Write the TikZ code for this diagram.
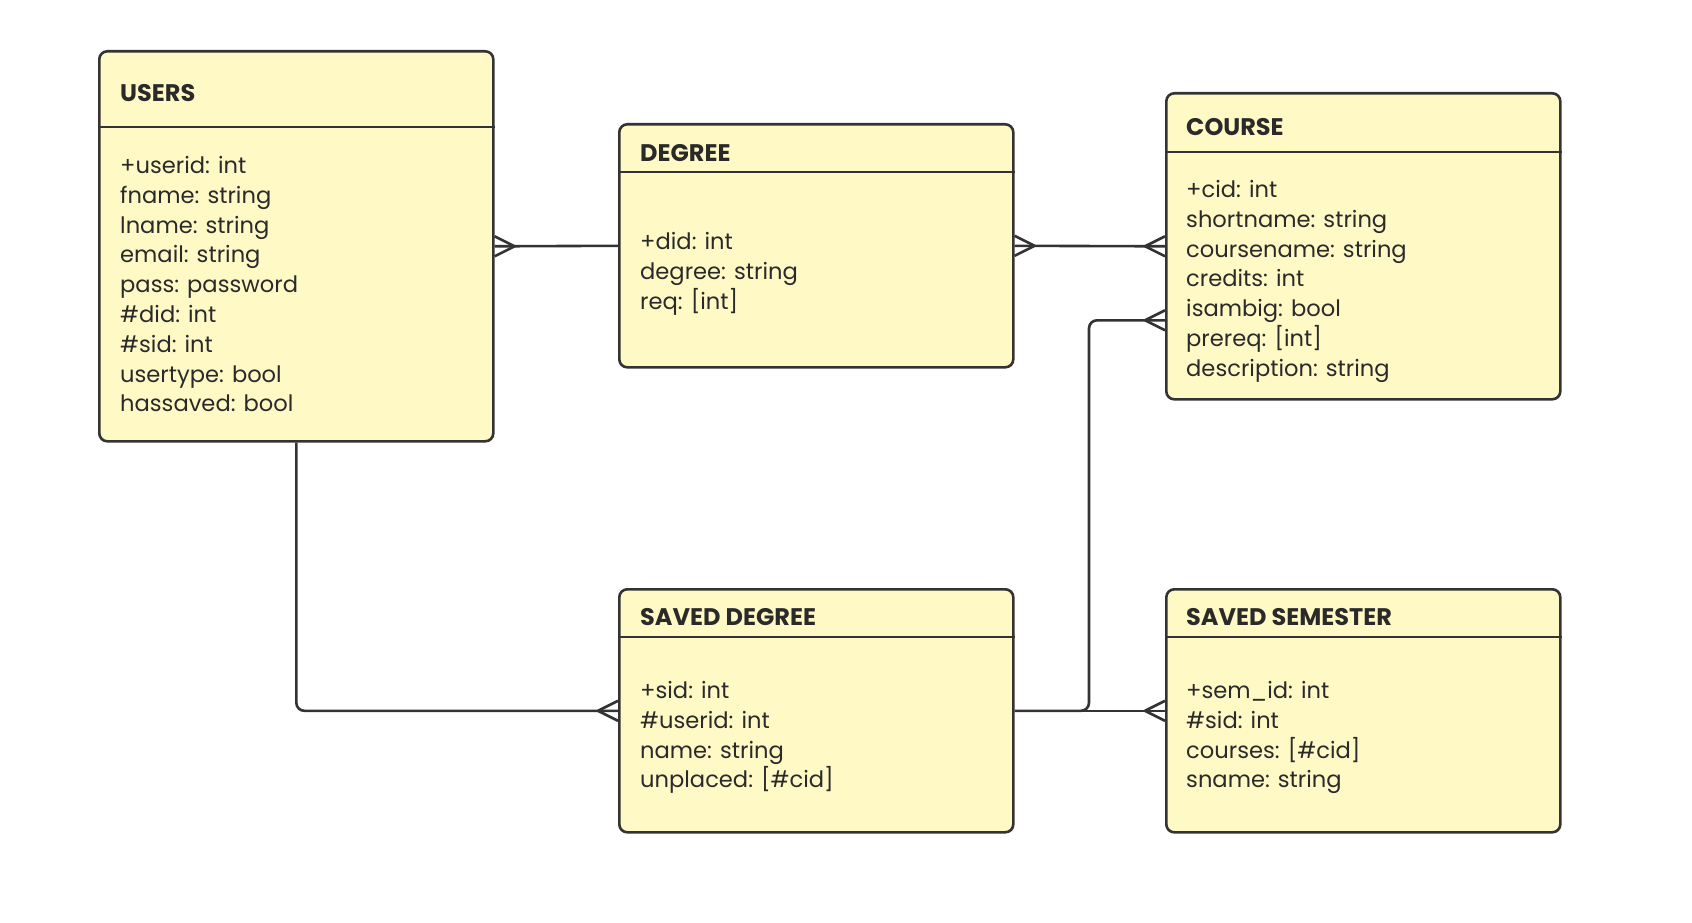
\documentclass[tikz,border=0pt]{standalone}
\usepackage{fontspec}
\setmainfont{Poppins}
\usetikzlibrary{calc}
\definecolor{boxfill}{HTML}{FFF9C6}
\definecolor{edge}{HTML}{333333}
\definecolor{txt}{HTML}{2A2A2A}
\tikzset{
  entity/.style={draw=edge, fill=boxfill, line width=2.6pt, rounded corners=8pt, anchor=north west, minimum width=394pt, inner sep=0pt},
  title/.style={anchor=west, font=\fontsize{24}{28}\selectfont\bfseries, text=txt, inner sep=0pt},
  body/.style={anchor=north west, font=\fontsize{22.6}{29.8}\selectfont, text=txt, align=left, inner sep=0pt},
  sep/.style={draw=edge, line width=2.6pt},
  conn/.style={draw=edge, line width=2.6pt, rounded corners=8pt},
  foot/.style={draw=edge, line width=2.6pt}
}
\newcommand{\crowfoot}[2]{% point, outward dx
  \draw[foot] ($(#1)+(#2,0)$) -- ($(#1)+(0,10)$);
  \draw[foot] ($(#1)+(#2,0)$) -- ($(#1)+(0,-10)$);
}
\begin{document}
\begin{tikzpicture}[x=1pt,y=-1pt]
\useasboundingbox (0,0) rectangle (1692,923);
\fill[white] (0,0) rectangle (1692,923);
% boxes
\node[entity, minimum height=390pt] (users) at (98,50) {};
\node[entity, minimum height=243pt] (degree) at (618,123) {};
\node[entity, minimum height=306pt] (course) at (1165,92) {};
\node[entity, minimum height=243pt] (sdeg) at (618,588) {};
\node[entity, minimum height=243pt] (ssem) at (1165,588) {};
% header separators
\draw[sep] (users.west |- 0,127) -- (users.east |- 0,127);
\draw[sep] (degree.west |- 0,172) -- (degree.east |- 0,172);
\draw[sep] (course.west |- 0,152) -- (course.east |- 0,152);
\draw[sep] (sdeg.west |- 0,637) -- (sdeg.east |- 0,637);
\draw[sep] (ssem.west |- 0,637) -- (ssem.east |- 0,637);
% titles
\node[title] (tusers) at (120,93) {USERS};
\node[title] (tdegree) at (640,153) {DEGREE};
\node[title] (tcourse) at (1186,127) {COURSE};
\node[title] (tsdeg) at (640,617) {SAVED DEGREE};
\node[title] (tssem) at (1186,617) {SAVED SEMESTER};
% bodies
\node[body] (busers) at (120,156) {+userid: int\\fname: string\\lname: string\\email: string\\pass: password\\\#did: int\\\#sid: int\\usertype: bool\\hassaved: bool};
\node[body] (bdegree) at (640,232) {+did: int\\degree: string\\req: [int]};
\node[body] (bcourse) at (1186,180) {+cid: int\\shortname: string\\coursename: string\\credits: int\\isambig: bool\\prereq: [int]\\description: string};
\node[body] (bsdeg) at (640,681) {+sid: int\\\#userid: int\\name: string\\unplaced: [\#cid]};
\node[body] (bssem) at (1186,681) {+sem\_id: int\\\#sid: int\\courses: [\#cid]\\sname: string};
% connectors
\coordinate (cbend) at (1089,709.5);
\draw[conn] (users.east) -- (degree.west);
\crowfoot{users.east}{20}
\draw[conn] (degree.east) -- (course.west);
\crowfoot{degree.east}{20}
\crowfoot{course.west}{-20}
\draw[conn] (users.south) |- (sdeg.west);
\crowfoot{sdeg.west}{-20}
\draw[conn] (sdeg.east) -- (ssem.west);
\crowfoot{ssem.west}{-20}
\coordinate (cprereq) at ($(course.west)+(0,74)$);
\draw[conn] (sdeg.east) -| (cbend |- cprereq) -- (cprereq);
\crowfoot{cprereq}{-20}
\end{tikzpicture}
\end{document}
